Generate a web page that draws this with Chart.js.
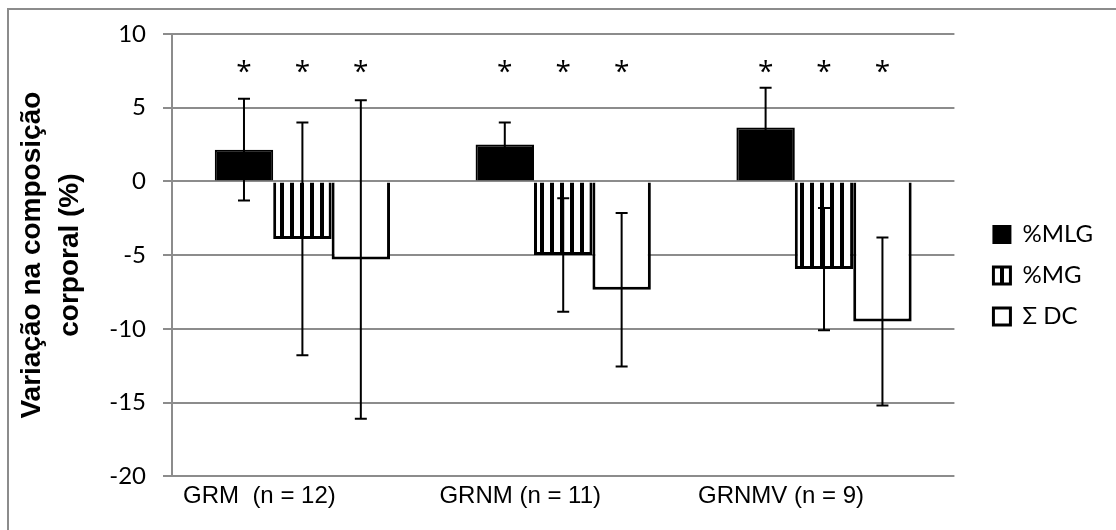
<!DOCTYPE html>
<html>
<head>
<meta charset="utf-8">
<script src="https://cdn.jsdelivr.net/npm/chart.js@4"></script>
<style>
  body { margin: 0; background: #fff; }
  .box { width: 1116px; height: 530px; position: relative; }
</style>
</head>
<body>
<div class="box"><canvas id="grafico"></canvas></div>
<script>
const grupos = ["GRM  (n = 12)", "GRNM (n = 11)", "GRNMV (n = 9)"];
const mlg = [2.15, 2.5, 3.65];
const mlgDp = [3.45, 1.5, 2.7];
const mg = [-3.9, -5.0, -5.95];
const mgDp = [7.9, 3.85, 4.15];
const dc = [-5.3, -7.35, -9.5];
const dcDp = [10.8, 5.2, 5.7];
const asterisco = 7.7;
const ticksY = [10, 5, 0, -5, -10, -15, -20];

// listras verticais para %MG
function listras() {
  let c = document.createElement("canvas");
  c.width = 10;
  c.height = 10;
  let g = c.getContext("2d");
  g.fillStyle = "#fff";
  g.fillRect(0, 0, 10, 10);
  g.fillStyle = "#000";
  g.fillRect(0, 0, 4, 10);
  return g.createPattern(c, "repeat");
}

const desvios = [mlgDp, mgDp, dcDp];

const barrasErro = {
  id: "barrasErro",
  afterDatasetsDraw(chart) {
    const ctx = chart.ctx;
    const y = chart.scales.y;
    ctx.save();
    ctx.strokeStyle = "#000";
    ctx.lineWidth = 2;
    chart.data.datasets.forEach(function (ds, i) {
      const meta = chart.getDatasetMeta(i);
      meta.data.forEach(function (bar, j) {
        const v = ds.data[j];
        const dp = desvios[i][j];
        const yTopo = y.getPixelForValue(v + dp);
        const yBase = y.getPixelForValue(v - dp);
        ctx.beginPath();
        ctx.moveTo(bar.x, yTopo);
        ctx.lineTo(bar.x, yBase);
        ctx.moveTo(bar.x - 6, yTopo);
        ctx.lineTo(bar.x + 6, yTopo);
        ctx.moveTo(bar.x - 6, yBase);
        ctx.lineTo(bar.x + 6, yBase);
        ctx.stroke();
      });
    });
    // asteriscos
    ctx.fillStyle = "#000";
    ctx.font = "28px 'Open Sans'";
    ctx.textAlign = "center";
    ctx.textBaseline = "middle";
    chart.data.datasets.forEach(function (ds, i) {
      chart.getDatasetMeta(i).data.forEach(function (bar) {
        ctx.fillText("*", bar.x, y.getPixelForValue(asterisco) + 5);
      });
    });
    ctx.restore();
  },
};

const moldura = {
  id: "moldura",
  afterDraw(chart) {
    const ctx = chart.ctx;
    ctx.save();
    ctx.strokeStyle = "#8c8c8c";
    ctx.lineWidth = 2;
    ctx.beginPath();
    ctx.moveTo(8, 530);
    ctx.lineTo(8, 9);
    ctx.lineTo(1116, 9);
    ctx.stroke();
    ctx.restore();
  },
};

const data = {
  labels: grupos,
  datasets: [
    {
      label: "%MLG",
      data: mlg,
      backgroundColor: "#000",
      borderColor: "#000",
      borderWidth: 2,
    },
    {
      label: "%MG",
      data: mg,
      backgroundColor: listras(),
      borderColor: "#000",
      borderWidth: 3,
    },
    {
      label: "Σ DC",
      data: dc,
      backgroundColor: "#fff",
      borderColor: "#000",
      borderWidth: 3,
    },
  ],
};

const config = {
  type: "bar",
  data: data,
  plugins: [barrasErro, moldura],
  options: {
    responsive: true,
    maintainAspectRatio: false,
    animation: false,
    datasets: {
      bar: { barPercentage: 1, categoryPercentage: 0.672 },
    },
    layout: { padding: { left: 13, top: 34, right: 13, bottom: 13 } },
    plugins: {
      tooltip: { enabled: false },
      legend: {
        position: "right",
        labels: {
          color: "#000",
          font: { family: "Lato", size: 24 },
          boxWidth: 17,
          boxHeight: 17,
          padding: 17,
        },
      },
    },
    scales: {
      x: {
        grid: { display: false, drawTicks: false },
        border: { display: false },
        ticks: {
          color: "#000",
          font: { family: "'Liberation Sans'", size: 24 },
          labelOffset: -43,
          padding: 6,
          maxRotation: 0,
        },
      },
      y: {
        min: -20,
        max: 10,
        afterFit: function (s) {
          s.width = 159;
        },
        afterBuildTicks: function (s) {
          s.ticks = ticksY.map(function (v) {
            return { value: v };
          });
        },
        grid: { color: "#8c8c8c", lineWidth: 2, tickLength: 9 },
        border: { color: "#8c8c8c", width: 2 },
        ticks: {
          color: "#000",
          font: { family: "Lato", size: 24 },
          padding: 17,
        },
        title: {
          display: true,
          text: ["Variação na composição", "corporal (%)"],
          color: "#000",
          font: { family: "'Liberation Sans'", size: 28, weight: "bold", lineHeight: 1.36 },
          padding: 0,
        },
      },
      yDir: {
        position: "right",
        display: true,
        grid: { display: false },
        border: { display: false },
        ticks: { display: false },
        afterFit: function (s) {
          s.width = 22;
        },
      },
    },
  },
};

new Chart(document.getElementById("grafico"), config);
</script>
</body>
</html>
